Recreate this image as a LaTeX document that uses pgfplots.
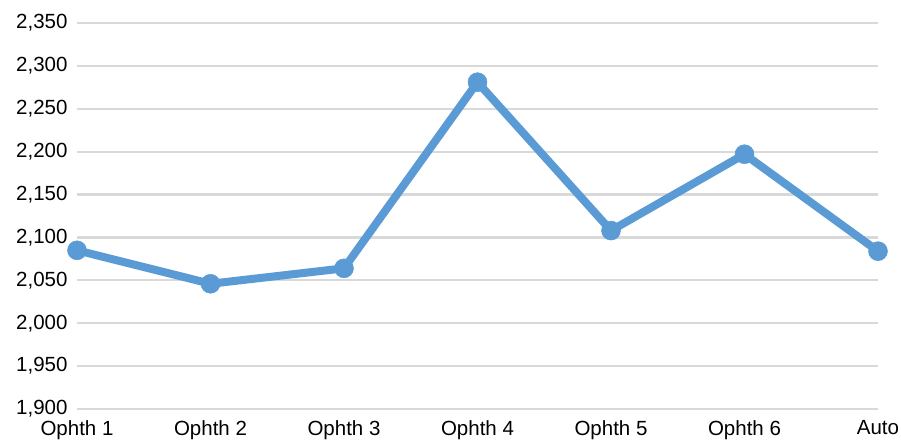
\documentclass[border=0pt]{standalone}
\usepackage{fontspec}
\setmainfont{Liberation Sans}
\usepackage{pgfplots}
\pgfplotsset{compat=1.18}
\definecolor{lineblue}{HTML}{5B9BD5}
\definecolor{gridgray}{HTML}{D9D9D9}
\begin{document}
\begin{tikzpicture}
\path[use as bounding box] (0,0) rectangle (901pt,443pt);
\begin{axis}[
  at={(77pt,34pt)}, anchor=south west,
  scale only axis, width=801pt, height=386pt,
  xmin=0, xmax=6, ymin=1900, ymax=2350,
  ytick={1900,1950,...,2350},
  xtick={0,...,6},
  xticklabels={Ophth 1,Ophth 2,Ophth 3,Ophth 4,Ophth 5,Ophth 6,Auto},
  axis line style={draw=none},
  major tick length=0pt,
  ymajorgrids, grid style={gridgray, line width=2.2pt},
  /pgf/number format/assume math mode=true,
  /pgf/number format/1000 sep={,},
  tick label style={font=\fontsize{20.5}{22}\selectfont, text=black},
  yticklabel style={xshift=-6pt},
  xticklabel style={yshift=-8pt},
  clip=false,
]
\addplot[lineblue, line width=8pt, mark=*, mark size=9.5pt,
  mark options={fill=lineblue, draw=lineblue, line width=0.5pt}]
  coordinates {(0,2085) (1,2046) (2,2064) (3,2281) (4,2108) (5,2197) (6,2084)};
\end{axis}
\end{tikzpicture}
\end{document}
